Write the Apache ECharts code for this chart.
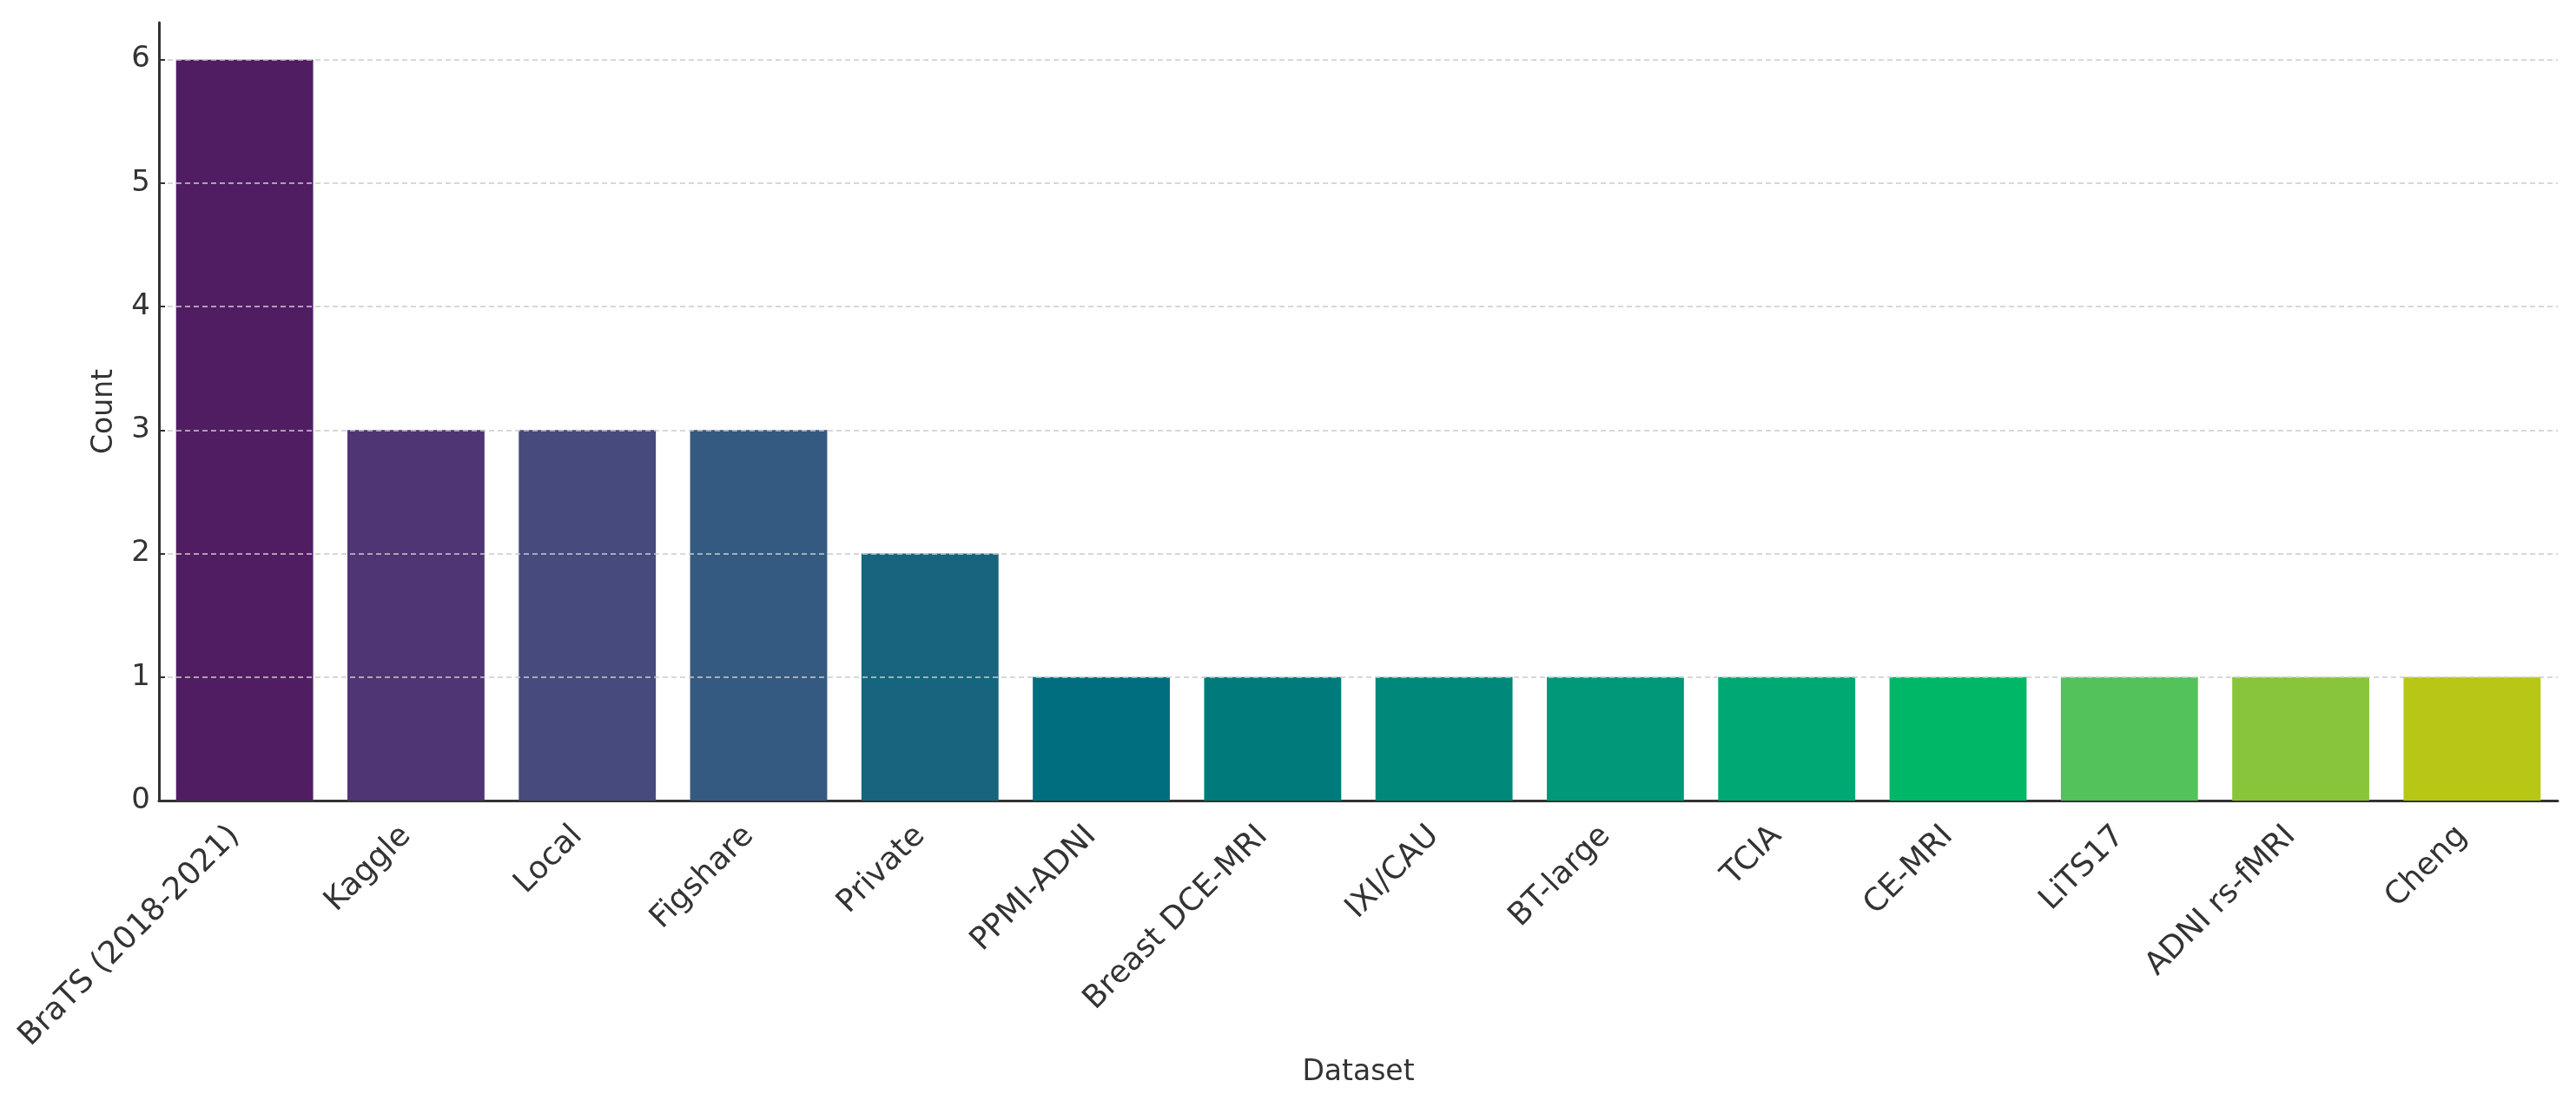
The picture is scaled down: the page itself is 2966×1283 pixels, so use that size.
<!DOCTYPE html>
<html>
<head>
<meta charset="utf-8">
<script src="https://cdn.jsdelivr.net/npm/echarts@6/dist/echarts.min.js"></script>
<style>
html,body{margin:0;padding:0;background:#fff;}
#chart{width:2966px;height:1283px;}
</style>
</head>
<body>
<div id="chart"></div>
<script>
var categories = ["BraTS (2018-2021)", "Kaggle", "Local", "Figshare", "Private", "PPMI-ADNI", "Breast DCE-MRI", "IXI/CAU", "BT-large", "TCIA", "CE-MRI", "LiTS17", "ADNI rs-fMRI", "Cheng"];
var counts = [6, 3, 3, 3, 2, 1, 1, 1, 1, 1, 1, 1, 1, 1];
var barColors = ["#511D62", "#4F3573", "#464A7D", "#345A81", "#17647F", "#006E7F", "#007A7B", "#00897A", "#009878", "#00A873", "#00B767", "#53C25A", "#89C53B", "#B8C716"];
var yTicks = [0, 1, 2, 3, 4, 5, 6];

var FONT = '"DejaVu Sans", sans-serif';
var chart = echarts.init(document.getElementById('chart'), null, {renderer: 'canvas'});
chart.setOption({
  animation: false,
  backgroundColor: '#ffffff',
  grid: {left: 183, right: 21, top: 26, bottom: 361, containLabel: false},
  xAxis: {
    type: 'category',
    data: categories,
    name: 'Dataset',
    nameLocation: 'middle',
    nameGap: 296,
    nameTextStyle: {fontFamily: FONT, fontSize: 33, color: '#333'},
    axisLine: {lineStyle: {color: '#333', width: 3}},
    axisTick: {show: true, alignWithLabel: true, inside: true, length: 7, lineStyle: {color: '#333', width: 2}},
    axisLabel: {rotate: 45, margin: 24, padding: [0, 16, 0, 0], fontFamily: FONT, fontSize: 36, color: '#333', interval: 0}
  },
  yAxis: {
    type: 'value',
    min: 0,
    max: 6.3,
    interval: 1,
    z: 10,
    name: 'Count',
    nameLocation: 'middle',
    nameGap: 46,
    nameTextStyle: {fontFamily: FONT, fontSize: 33, color: '#333'},
    axisLine: {show: true, lineStyle: {color: '#333', width: 3}},
    axisTick: {show: true, inside: true, length: 7, lineStyle: {color: '#333', width: 2}},
    axisLabel: {
      fontFamily: FONT, fontSize: 34, color: '#333', margin: 10,
      showMaxLabel: false,
      formatter: function (v) { return yTicks.indexOf(v) >= 0 ? String(v) : ''; }
    },
    splitLine: {show: true, showMinLine: false, showMaxLine: false, lineStyle: {color: '#cccccc', type: [6, 4], width: 1.5}}
  },
  series: [{
    type: 'bar',
    data: counts.map(function (v, i) { return {value: v, itemStyle: {color: barColors[i]}}; }),
    barCategoryGap: '20%'
  }]
});
</script>
</body>
</html>
